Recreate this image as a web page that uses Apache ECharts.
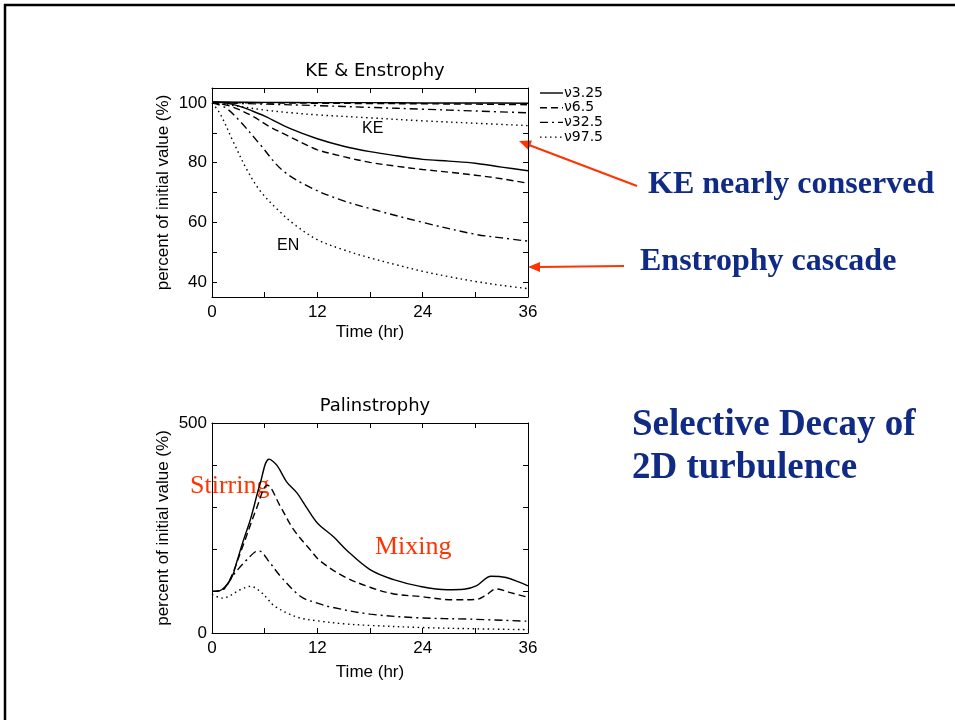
<!DOCTYPE html>
<html>
<head>
<meta charset="utf-8">
<script src="https://cdn.jsdelivr.net/npm/echarts@6/dist/echarts.min.js"></script>
<style>html,body{margin:0;padding:0;background:#fff;}#c{width:955px;height:720px;}</style>
</head>
<body>
<div id="c"></div>
<script>
// ---- Data (time in hr, value in % of initial) ----
const legendNames = ['ν3.25', 'ν6.5', 'ν32.5', 'ν97.5'];
const xTickLabels = [0, 12, 24, 36];
const topYTickLabels = [40, 60, 80, 100];
const bottomYTickLabels = [0, 500];

// KE curves
const ke_325 = [[0,100.3],[6,100.2],[12,100.1],[18,100.1],[24,100],[30,100],[36,99.9]];
const ke_65  = [[0,100.2],[6,100],[12,99.9],[18,99.8],[24,99.7],[30,99.6],[36,99.4]];
const ke_325b = [[0,100.1],[6,99.6],[12,99.1],[18,98.5],[24,97.9],[30,97.3],[36,96.7]];
const ke_975 = [[0,100],[3,98.9],[6,97.6],[9,96.7],[12,96],[18,95],[24,94],[30,93.2],[36,92.4]];

// Enstrophy curves
const en_325 = [[0,100.3],[1.5,100],[3,99],[4.5,97.4],[6,95.6],[9,91.3],[12,88],[15,85.5],[18,83.7],[21,82.3],[24,81.1],[27,80.5],[30,79.8],[33,78.5],[36,77.3]];
const en_65  = [[0,100.2],[2,99],[4.4,95.9],[6.6,92],[8.5,89.2],[10.8,85.9],[12,84.3],[15,82],[18,80.1],[21,78.8],[24,77.7],[27,76.8],[30,75.8],[33,74.6],[36,73.1]];
const en_325b = [[0,100],[1.5,98.5],[3.2,93.8],[5.5,86],[8,77.5],[11.2,71.7],[14.6,67.6],[18.4,64.3],[24,60],[30,56],[33,54.8],[36,53.7]];
const en_975 = [[0,100],[0.9,96.5],[2.5,86.5],[4,77.5],[5.5,70.5],[7.4,64.5],[9.3,59.5],[12,54.2],[15,50.8],[18,48.1],[21,45.8],[24,43.6],[27,41.8],[30,40.2],[33,38.9],[36,37.8]];

// Palinstrophy curves
const pa_325 = [[0,99],[1.1,103],[2.3,135],[2.8,168],[3.6,222],[4.4,272],[5.5,357],[6.5,414],[7.4,399],[8.5,360],[9.7,333],[10.8,298],[12,262],[13.9,228],[15.4,196],[18,151],[20.7,127],[23.7,111],[26.8,103],[28.7,104],[30.1,112],[31.8,135],[33.5,132],[35,121],[36,112]];
const pa_65  = [[0,99],[1.1,102],[2,125],[3.6,212],[5.1,298],[6.3,352],[7.8,301],[9.3,246],[11.2,198],[12.3,172],[15,135],[18,109],[20.7,93],[23.7,87],[27.5,79],[30.1,80],[31.2,90],[32.4,105],[34,96],[36,85]];
const pa_325b = [[0,99],[1.1,101],[2.5,140],[4,175],[5.3,196],[6.6,167],[7.8,135],[10.1,87],[12,71],[13.5,62],[18,45],[23.7,36],[29.4,33],[36,28]];
const pa_975 = [[0,92],[1.2,83],[3.2,103],[4.4,111],[5.5,99],[6.3,82],[7,66],[8.5,48],[10,36],[12,29],[15,22],[18,18],[24,13],[30,10],[36,8]];

// ---- Styles ----
const dashes = ['solid', [7,4], [8,4,2,4], [1.5,3.5]];
const FONT_SANS = '"Liberation Sans", Arial, sans-serif';
const FONT_WIDE = '"DejaVu Sans", sans-serif';
const FONT_SERIF = '"Liberation Serif", "Times New Roman", serif';
const BLUE = '#0f2b85';
const RED = '#ff3300';

function mkSeries(name, data, idx, xi, yi) {
  return {
    type: 'line', name: name, data: data, xAxisIndex: xi, yAxisIndex: yi,
    showSymbol: false, symbol: 'none', smooth: 0.35,
    lineStyle: { color: '#000', width: 1.4, type: dashes[idx] },
    itemStyle: { color: '#000' },
    emphasis: { disabled: true }, silent: true, z: 3
  };
}

const axisCommon = {
  axisLine: { show: true, onZero: false, lineStyle: { color: '#000', width: 1 } },
  splitLine: { show: false }
};

function xAxes(gridIndex, nameGap) {
  return [
    Object.assign({}, axisCommon, {
      type: 'value', gridIndex: gridIndex, min: 0, max: 36, interval: 6, position: 'bottom',
      name: 'Time (hr)', nameLocation: 'middle', nameGap: nameGap,
      nameTextStyle: { fontFamily: FONT_SANS, fontSize: 17, color: '#000' },
      axisTick: { show: true, inside: true, length: 5, lineStyle: { color: '#000' } },
      axisLabel: { fontFamily: FONT_SANS, fontSize: 17, color: '#000', margin: 7,
        formatter: v => xTickLabels.indexOf(v) >= 0 ? String(v) : '' }
    }),
    Object.assign({}, axisCommon, {
      type: 'value', gridIndex: gridIndex, min: 0, max: 36, interval: 6, position: 'top',
      axisTick: { show: true, inside: true, length: 5, lineStyle: { color: '#000' } },
      axisLabel: { show: false }
    })
  ];
}

// Manual legend (line-style samples + labels)
const legendGraphics = [];
legendNames.forEach((n, i) => {
  const y = 93 + i * 14.7;
  legendGraphics.push({ type: 'line', shape: { x1: 540, y1: y, x2: 563, y2: y },
    style: { stroke: '#000', lineWidth: 1.4, lineDash: dashes[i] === 'solid' ? null : dashes[i] } });
  legendGraphics.push({ type: 'text', x: 564, y: y, style: { text: n, font: '14px ' + FONT_WIDE, fill: '#000', textAlign: 'left', textVerticalAlign: 'middle' } });
});

const option = {
  backgroundColor: '#fff',
  animation: false,
  title: [
    { text: 'KE & Enstrophy', left: 370, top: 57, textAlign: 'center',
      textStyle: { fontFamily: FONT_WIDE, fontSize: 18, fontWeight: 'normal', color: '#000' } },
    { text: 'Palinstrophy', left: 370, top: 392, textAlign: 'center',
      textStyle: { fontFamily: FONT_WIDE, fontSize: 18, fontWeight: 'normal', color: '#000' } }
  ],
  grid: [
    { left: 212, top: 88, width: 316, height: 209 },
    { left: 212, top: 423, width: 316, height: 210 }
  ],
  xAxis: [].concat(xAxes(0, 27), xAxes(1, 31)),
  yAxis: [
    Object.assign({}, axisCommon, {
      type: 'value', gridIndex: 0, min: 35, max: 105, position: 'left',
      name: 'percent of initial value (%)', nameLocation: 'middle', nameGap: 40,
      nameTextStyle: { fontFamily: FONT_SANS, fontSize: 17, color: '#000' },
      axisTick: { show: true, inside: true, length: 5, customValues: [40,50,60,70,80,90,100], lineStyle: { color: '#000' } },
      axisLabel: { fontFamily: FONT_SANS, fontSize: 17, color: '#000', margin: 5, customValues: topYTickLabels }
    }),
    Object.assign({}, axisCommon, {
      type: 'value', gridIndex: 0, min: 35, max: 105, position: 'right',
      axisTick: { show: true, inside: true, length: 5, customValues: [40,50,60,70,80,90,100], lineStyle: { color: '#000' } },
      axisLabel: { show: false }
    }),
    Object.assign({}, axisCommon, {
      type: 'value', gridIndex: 1, min: 0, max: 500, interval: 100, position: 'left',
      name: 'percent of initial value (%)', nameLocation: 'middle', nameGap: 40,
      nameTextStyle: { fontFamily: FONT_SANS, fontSize: 17, color: '#000' },
      axisTick: { show: true, inside: true, length: 5, lineStyle: { color: '#000' } },
      axisLabel: { fontFamily: FONT_SANS, fontSize: 17, color: '#000', margin: 5,
        formatter: v => bottomYTickLabels.indexOf(v) >= 0 ? String(v) : '' }
    }),
    Object.assign({}, axisCommon, {
      type: 'value', gridIndex: 1, min: 0, max: 500, interval: 100, position: 'right',
      axisTick: { show: true, inside: true, length: 5, lineStyle: { color: '#000' } },
      axisLabel: { show: false }
    })
  ],
  series: [
    mkSeries(legendNames[0], ke_325, 0, 0, 0),
    mkSeries(legendNames[1], ke_65, 1, 0, 0),
    mkSeries(legendNames[2], ke_325b, 2, 0, 0),
    mkSeries(legendNames[3], ke_975, 3, 0, 0),
    mkSeries(legendNames[0], en_325, 0, 0, 0),
    mkSeries(legendNames[1], en_65, 1, 0, 0),
    mkSeries(legendNames[2], en_325b, 2, 0, 0),
    mkSeries(legendNames[3], en_975, 3, 0, 0),
    mkSeries(legendNames[0], pa_325, 0, 2, 2),
    mkSeries(legendNames[1], pa_65, 1, 2, 2),
    mkSeries(legendNames[2], pa_325b, 2, 2, 2),
    mkSeries(legendNames[3], pa_975, 3, 2, 2)
  ],
  graphic: [
    // slide frame
    { type: 'line', shape: { x1: 4, y1: 5, x2: 955, y2: 5 }, style: { stroke: '#000', lineWidth: 2.5 } },
    { type: 'line', shape: { x1: 5, y1: 4, x2: 5, y2: 720 }, style: { stroke: '#000', lineWidth: 2.5 } },
    // in-chart labels
    { type: 'text', x: 362, y: 129, style: { text: 'KE', font: '16px ' + FONT_SANS, fill: '#000', textAlign: 'left', textVerticalAlign: 'middle' } },
    { type: 'text', x: 277, y: 246, style: { text: 'EN', font: '16px ' + FONT_SANS, fill: '#000', textAlign: 'left', textVerticalAlign: 'middle' } },
    { type: 'text', x: 190, y: 486, style: { text: 'Stirring', font: '26px ' + FONT_SERIF, fill: RED, textAlign: 'left', textVerticalAlign: 'middle' } },
    { type: 'text', x: 375, y: 547, style: { text: 'Mixing', font: '26px ' + FONT_SERIF, fill: RED, textAlign: 'left', textVerticalAlign: 'middle' } },
    // blue annotations
    { type: 'text', x: 648, y: 185, style: { text: 'KE nearly conserved', font: 'bold 32px ' + FONT_SERIF, fill: BLUE, textAlign: 'left', textVerticalAlign: 'middle' } },
    { type: 'text', x: 640, y: 262, style: { text: 'Enstrophy cascade', font: 'bold 32px ' + FONT_SERIF, fill: BLUE, textAlign: 'left', textVerticalAlign: 'middle' } },
    { type: 'text', x: 632, y: 425, style: { text: 'Selective Decay of', font: 'bold 37px ' + FONT_SERIF, fill: BLUE, textAlign: 'left', textVerticalAlign: 'middle' } },
    { type: 'text', x: 632, y: 468, style: { text: '2D turbulence', font: 'bold 37px ' + FONT_SERIF, fill: BLUE, textAlign: 'left', textVerticalAlign: 'middle' } },
    // arrows
    { type: 'line', shape: { x1: 637, y1: 186, x2: 529, y2: 145 }, style: { stroke: RED, lineWidth: 2 } },
    { type: 'polygon', shape: { points: [[519,141],[532,140.6],[528.4,150]] }, style: { fill: RED } },
    { type: 'line', shape: { x1: 624, y1: 266, x2: 538, y2: 267 }, style: { stroke: RED, lineWidth: 2 } },
    { type: 'polygon', shape: { points: [[528,267],[540,262],[540,272]] }, style: { fill: RED } }
  ].concat(legendGraphics)
};

const chart = echarts.init(document.getElementById('c'), null, { renderer: 'canvas' });
chart.setOption(option);
</script>
</body>
</html>
